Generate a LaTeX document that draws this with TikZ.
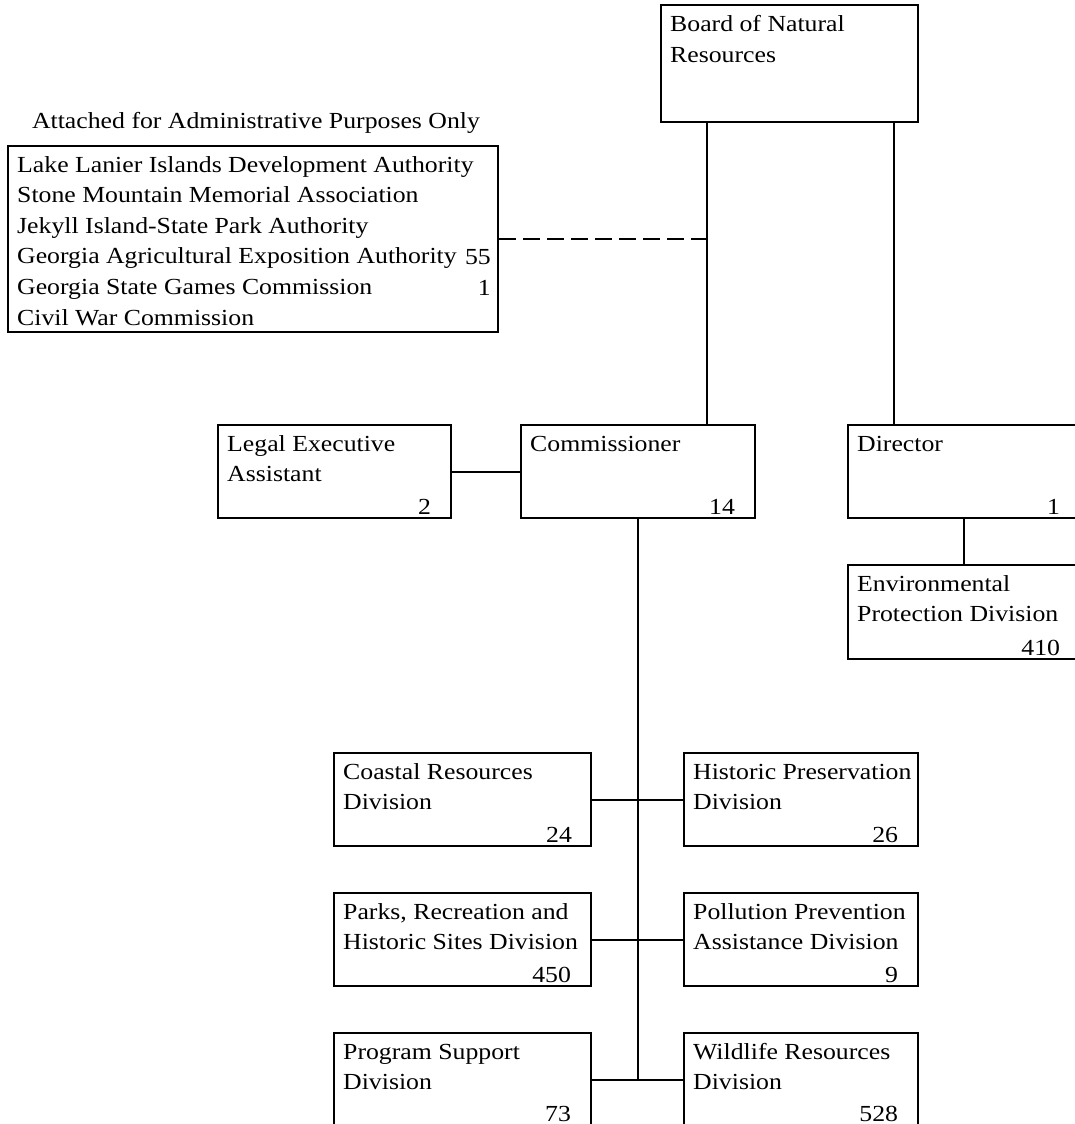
\documentclass[tikz,border=0pt]{standalone}
\usepackage{fontspec}
\setmainfont{Liberation Serif}[FakeStretch=1.12]
\begin{document}
\begin{tikzpicture}[x=1pt,y=-1pt,
  box/.style={draw, line width=2.2pt, anchor=north west, inner sep=0pt, minimum height=93pt},
  txt/.style={anchor=base west, inner sep=0pt, align=left, font=\fontsize{23pt}{30.6pt}\selectfont},
  num/.style={anchor=base east, inner sep=0pt, font=\fontsize{23pt}{30.6pt}\selectfont},
  link/.style={line width=2.2pt},
  dashlink/.style={line width=2.2pt, dash pattern=on 17pt off 7pt}]
\useasboundingbox (0,0) rectangle (1075,1124);

% boxes
\node[box, minimum width=257pt, minimum height=117pt] (board) at (660,4) {};
\node[box, minimum width=490pt, minimum height=186pt] (admin) at (7,145) {};
\node[box, minimum width=233pt] (legal) at (217,424) {};
\node[box, minimum width=234pt] (comm) at (520,424) {};
\node[box, minimum width=232pt] (dir) at (847,424) {};
\node[box, minimum width=232pt, minimum height=94pt] (epd) at (847,564) {};
\node[box, minimum width=257pt] (coastal) at (333,752) {};
\node[box, minimum width=257pt] (parks) at (333,892) {};
\node[box, minimum width=257pt] (program) at (333,1032) {};
\node[box, minimum width=234pt] (historic) at (683,752) {};
\node[box, minimum width=234pt] (pollution) at (683,892) {};
\node[box, minimum width=234pt] (wildlife) at (683,1032) {};

% labels (base anchor of a multi-line node is its last line)
\node[txt] (board-t) at ([xshift=10pt,yshift=-58.6pt]board.north west) {Board of Natural\\Resources};
\node[anchor=base, inner sep=0pt, font=\fontsize{23pt}{30.6pt}\selectfont] (admin-title) at (256,128) {Attached for Administrative Purposes Only};
\node[txt] (admin-t) at ([xshift=10pt,yshift=-180pt]admin.north west) {Lake Lanier Islands Development Authority\\Stone Mountain Memorial Association\\Jekyll Island-State Park Authority\\Georgia Agricultural Exposition Authority\\Georgia State Games Commission\\Civil War Commission};
\node[num] (admin-n1) at (491,264.8) {55};
\node[num] (admin-n2) at (491,295.4) {1};

\node[txt] (legal-t) at ([xshift=10pt,yshift=-57.6pt]legal.north west) {Legal Executive\\Assistant};
\node[num] (legal-n) at ([xshift=-21pt,yshift=5pt]legal.south east) {2};
\node[txt] (comm-t) at ([xshift=10pt,yshift=-27pt]comm.north west) {Commissioner};
\node[num] (comm-n) at ([xshift=-21pt,yshift=5pt]comm.south east) {14};
\node[txt] (dir-t) at ([xshift=10pt,yshift=-27pt]dir.north west) {Director};
\node[num] (dir-n) at ([xshift=-21pt,yshift=5pt]dir.south east) {1};
\node[txt] (epd-t) at ([xshift=10pt,yshift=-57.6pt]epd.north west) {Environmental\\Protection Division};
\node[num] (epd-n) at ([xshift=-21pt,yshift=5pt]epd.south east) {410};

\node[txt] (coastal-t) at ([xshift=10pt,yshift=-57.6pt]coastal.north west) {Coastal Resources\\Division};
\node[num] (coastal-n) at ([xshift=-20pt,yshift=5pt]coastal.south east) {24};
\node[txt] (parks-t) at ([xshift=10pt,yshift=-57.6pt]parks.north west) {Parks, Recreation and\\Historic Sites Division};
\node[num] (parks-n) at ([xshift=-21pt,yshift=5pt]parks.south east) {450};
\node[txt] (program-t) at ([xshift=10pt,yshift=-57.6pt]program.north west) {Program Support\\Division};
\node[num] (program-n) at ([xshift=-21pt,yshift=6pt]program.south east) {73};
\node[txt] (historic-t) at ([xshift=10pt,yshift=-57.6pt]historic.north west) {Historic Preservation\\Division};
\node[num] (historic-n) at ([xshift=-21pt,yshift=5pt]historic.south east) {26};
\node[txt] (pollution-t) at ([xshift=10pt,yshift=-57.6pt]pollution.north west) {Pollution Prevention\\Assistance Division};
\node[num] (pollution-n) at ([xshift=-21pt,yshift=5pt]pollution.south east) {9};
\node[txt] (wildlife-t) at ([xshift=10pt,yshift=-57.6pt]wildlife.north west) {Wildlife Resources\\Division};
\node[num] (wildlife-n) at ([xshift=-21pt,yshift=6pt]wildlife.south east) {528};

% connectors
\coordinate (bl) at ([xshift=47pt]board.south west);
\coordinate (br) at ([xshift=234pt]board.south west);
\draw[link] (bl) -- (bl |- comm.north);
\draw[link] (br) -- (br |- dir.north);
\draw[dashlink] (admin.east) -- (admin.east -| bl);
\draw[link] (legal.east) -- (comm.west);
\draw[link] (dir.south) -- (epd.north);
\draw[link] (comm.south) -- (comm.south |- program.east);
\draw[link] (coastal.east) -- (historic.west);
\draw[link] (parks.east) -- (pollution.west);
\draw[link] (program.east) -- (wildlife.west);
\end{tikzpicture}
\end{document}
